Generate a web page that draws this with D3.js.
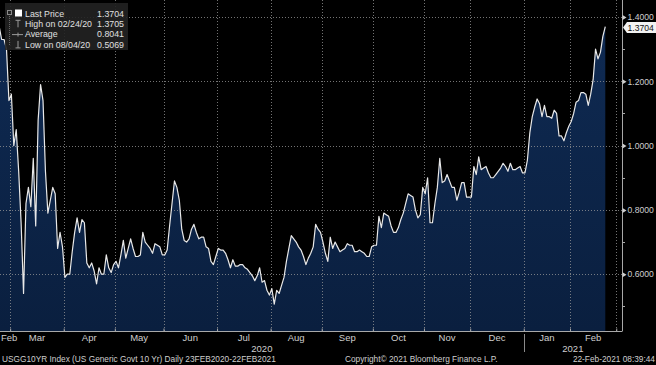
<!DOCTYPE html>
<html>
<head>
<meta charset="utf-8">
<script src="https://cdn.jsdelivr.net/npm/d3@7"></script>
<style>
  html, body { margin: 0; padding: 0; background: #000; }
  svg { display: block; font-family: "Liberation Sans", Arial, sans-serif; }
</style>
</head>
<body>
<div class="graphic"></div>
<script>
// USGG10YR daily closes, one array per month (trading days only)
var feb20 = [1.3705, 1.33, 1.33, 1.30, 1.14];
var mar20 = [1.16, 1.00, 1.05, 0.92, 0.76, 0.54, 0.82, 0.87, 0.81, 0.96, 0.75, 1.08, 1.19, 1.14, 0.92, 0.79, 0.83, 0.87, 0.85, 0.68, 0.73, 0.685];
var apr20 = [0.59, 0.60, 0.60, 0.67, 0.73, 0.775, 0.73, 0.77, 0.76, 0.635, 0.62, 0.635, 0.61, 0.57, 0.62, 0.60, 0.60, 0.66, 0.62, 0.605, 0.63];
var may20 = [0.64, 0.62, 0.66, 0.705, 0.65, 0.68, 0.71, 0.68, 0.655, 0.655, 0.66, 0.73, 0.70, 0.69, 0.68, 0.665, 0.695, 0.69, 0.685, 0.66];
var jun20 = [0.66, 0.675, 0.75, 0.82, 0.89, 0.87, 0.83, 0.74, 0.705, 0.70, 0.71, 0.74, 0.755, 0.73, 0.71, 0.715, 0.715, 0.685, 0.68, 0.64, 0.63, 0.655];
var jul20 = [0.68, 0.675, 0.675, 0.665, 0.645, 0.62, 0.645, 0.625, 0.625, 0.63, 0.63, 0.62, 0.615, 0.605, 0.595, 0.58, 0.595, 0.62, 0.575, 0.58, 0.55, 0.535];
var aug20 = [0.555, 0.5069, 0.55, 0.54, 0.565, 0.59, 0.64, 0.68, 0.72, 0.71, 0.70, 0.685, 0.675, 0.655, 0.63, 0.65, 0.665, 0.685, 0.755, 0.74, 0.73];
var sep20 = [0.70, 0.665, 0.64, 0.715, 0.68, 0.70, 0.685, 0.67, 0.675, 0.68, 0.695, 0.69, 0.69, 0.67, 0.67, 0.675, 0.67, 0.665, 0.655, 0.655, 0.685];
var oct20 = [0.69, 0.69, 0.78, 0.745, 0.79, 0.785, 0.78, 0.75, 0.73, 0.73, 0.745, 0.77, 0.79, 0.82, 0.85, 0.845, 0.84, 0.80, 0.775, 0.785, 0.87];
var nov20 = [0.85, 0.90, 0.76, 0.76, 0.82, 0.87, 0.96, 0.885, 0.89, 0.91, 0.89, 0.87, 0.87, 0.83, 0.855, 0.885, 0.885, 0.84, 0.84];
var dec20 = [0.84, 0.935, 0.91, 0.965, 0.925, 0.93, 0.935, 0.915, 0.90, 0.90, 0.91, 0.92, 0.93, 0.945, 0.935, 0.92, 0.945, 0.925, 0.925, 0.93, 0.935, 0.915];
var jan21 = [0.915, 0.955, 1.04, 1.09, 1.12, 1.145, 1.13, 1.09, 1.125, 1.09, 1.09, 1.085, 1.11, 1.10, 1.03, 1.03, 1.015, 1.04, 1.06];
var feb21 = [1.075, 1.10, 1.135, 1.14, 1.165, 1.165, 1.16, 1.125, 1.16, 1.205, 1.30, 1.27, 1.29, 1.34, 1.3704];

// axis months and their trading-day counts (last Feb counted to month end)
var monthLabels = ["Feb", "Mar", "Apr", "May", "Jun", "Jul", "Aug", "Sep", "Oct", "Nov", "Dec", "Jan", "Feb"];
var monthDays = [5, 22, 21, 20, 22, 22, 21, 21, 21, 19, 22, 19, 19];
var yearLabels = ["2020", "2021"];
var yTicks = [0.6, 0.8, 1.0, 1.2, 1.4];
var yMinor = [0.5, 0.7, 0.9, 1.1, 1.3];

var legendNames = ["Last Price", "High on 02/24/20", "Average", "Low on 08/04/20"];
var legendValues = ["1.3704", "1.3705", "0.8041", "0.5069"];
var lastPrice = 1.3704;

var footerLeft = "USGG10YR Index (US Generic Govt 10 Yr)  Daily 23FEB2020-22FEB2021";
var footerMid = "Copyright\u00a9 2021 Bloomberg Finance L.P.";
var footerRight = "22-Feb-2021 08:39:44";

var series = [].concat(feb20, mar20, apr20, may20, jun20, jul20, aug20, sep20, oct20, nov20, dec20, jan21, feb21);

var W = 656, H = 365;
var plotRight = 622, plotBottom = 331;
var textColor = "#cfcfcf";

var svg = d3.select(".graphic").append("svg")
  .attr("width", W).attr("height", H);

svg.append("rect").attr("width", W).attr("height", H).attr("fill", "#000");

var x = d3.scaleLinear().domain([0, 255]).range([-0.8, 619.9]);
var y = d3.scaleLinear().domain([0.4233, 1.4529]).range([plotBottom, 0]);

var defs = svg.append("defs");
var grad = defs.append("linearGradient").attr("id", "fillGrad")
  .attr("x1", 0).attr("y1", 0).attr("x2", 0).attr("y2", 1);
grad.append("stop").attr("offset", "0%").attr("stop-color", "#0f2a52");
grad.append("stop").attr("offset", "100%").attr("stop-color", "#0a1f3f");

defs.append("clipPath").attr("id", "plotClip")
  .append("rect").attr("x", 0).attr("y", 0).attr("width", plotRight).attr("height", plotBottom);

var plot = svg.append("g").attr("clip-path", "url(#plotClip)");

// area + line
var area = d3.area()
  .x(function(d, i) { return x(i); })
  .y0(plotBottom)
  .y1(function(d) { return y(d); });

var line = d3.line()
  .x(function(d, i) { return x(i); })
  .y(function(d) { return y(d); });

plot.append("path")
  .datum(series)
  .attr("d", area)
  .attr("fill", "url(#fillGrad)");

// month boundaries (between trading days)
var starts = [];
var acc = 0;
monthDays.forEach(function(n) { starts.push(acc); acc += n; });
var bounds = starts.slice(1).concat([acc]).map(function(s) { return s - 0.5; });

// grid
plot.append("g")
  .selectAll("line.hgrid")
  .data(yTicks)
  .enter().append("line")
  .attr("x1", 0).attr("x2", plotRight)
  .attr("y1", function(d) { return Math.round(y(d)) + 0.5; })
  .attr("y2", function(d) { return Math.round(y(d)) + 0.5; })
  .attr("stroke", "#9a9a9a").attr("stroke-opacity", 0.75)
  .attr("stroke-dasharray", "1,2");

plot.append("g")
  .selectAll("line.vgrid")
  .data(bounds)
  .enter().append("line")
  .attr("x1", function(d) { return Math.round(x(d)) + 0.5; })
  .attr("x2", function(d) { return Math.round(x(d)) + 0.5; })
  .attr("y1", 0).attr("y2", plotBottom)
  .attr("stroke", "#9a9a9a").attr("stroke-opacity", 0.75)
  .attr("stroke-dasharray", "1,2");

plot.append("path")
  .datum(series)
  .attr("d", line)
  .attr("fill", "none")
  .attr("stroke", "#e8e8e8")
  .attr("stroke-width", 1.2)
  .attr("stroke-linejoin", "round");

// bottom axis
var xAxis = d3.axisBottom(x)
  .tickValues(bounds)
  .tickSize(-3)
  .tickSizeOuter(0)
  .tickFormat("");

var gx = svg.append("g")
  .attr("transform", "translate(0," + (plotBottom + 0.5) + ")")
  .call(xAxis);
gx.select(".domain").attr("stroke", "#a8a8a8").attr("d", "M0,0H" + plotRight);
gx.selectAll(".tick line").attr("stroke", "#a8a8a8");

// month labels centred in each month span
var monthEdges = [0].concat(bounds.map(function(b) { return x(b); }));
svg.append("g").selectAll("text")
  .data(monthLabels)
  .enter().append("text")
  .attr("x", function(d, i) {
    if (i === 0) return 1;
    return (monthEdges[i] + Math.min(monthEdges[i + 1], plotRight)) / 2;
  })
  .attr("y", 341)
  .attr("text-anchor", function(d, i) { return i === 0 ? "start" : "middle"; })
  .attr("font-size", 9.5)
  .attr("fill", textColor)
  .text(function(d) { return d; });

// year labels and separator
var janEdge = x(bounds[10]);
var yearCenters = [janEdge / 2, (janEdge + plotRight) / 2];
svg.append("g").selectAll("text")
  .data(yearLabels)
  .enter().append("text")
  .attr("x", function(d, i) { return yearCenters[i]; })
  .attr("y", 351.5)
  .attr("text-anchor", "middle")
  .attr("font-size", 9.5)
  .attr("fill", textColor)
  .text(function(d) { return d; });

svg.append("line")
  .attr("x1", Math.round(janEdge) + 0.5).attr("x2", Math.round(janEdge) + 0.5)
  .attr("y1", 334).attr("y2", 352)
  .attr("stroke", "#8a8a8a");

// right axis
var yAxis = d3.axisRight(y)
  .tickValues(yTicks)
  .tickSize(0)
  .tickPadding(5)
  .tickSizeOuter(0)
  .tickFormat(d3.format(".4f"));

var gy = svg.append("g")
  .attr("transform", "translate(" + (plotRight + 0.5) + ",0)")
  .call(yAxis);
gy.select(".domain").attr("stroke", "#a8a8a8").attr("d", "M0,0V" + (plotBottom + 0.5));
gy.selectAll(".tick text")
  .attr("fill", textColor)
  .attr("font-size", 8.6)
  .attr("font-family", "Liberation Sans, Arial, sans-serif");
gy.selectAll(".tick").append("path")
  .attr("d", "M0,-2.5L4,0L0,2.5Z")
  .attr("fill", "#cfcfcf");

svg.append("g").selectAll("line")
  .data(yMinor)
  .enter().append("line")
  .attr("x1", plotRight).attr("x2", plotRight + 3)
  .attr("y1", function(d) { return Math.round(y(d)) + 0.5; })
  .attr("y2", function(d) { return Math.round(y(d)) + 0.5; })
  .attr("stroke", "#a8a8a8");

// last price tag
var ly = y(lastPrice) + 1;
svg.append("path")
  .attr("d", "M" + (plotRight + 1) + "," + ly + "L" + (plotRight + 5) + "," + (ly - 5.5) +
    "H" + W + "V" + (ly + 5.5) + "H" + (plotRight + 5) + "Z")
  .attr("fill", "#f2f2f2");
svg.append("text")
  .attr("x", plotRight + 5.5).attr("y", ly + 3.2)
  .attr("font-size", 8.6)
  .attr("fill", "#111")
  .text(lastPrice.toFixed(4));

// legend
var leg = svg.append("g");
leg.append("rect")
  .attr("x", 5).attr("y", 3).attr("width", 123).attr("height", 47)
  .attr("fill", "#222").attr("fill-opacity", 0.9);

var rowY = [13.5, 23.8, 34.1, 44.4];

leg.append("line")
  .attr("x1", 9.5).attr("x2", 9.5).attr("y1", 16).attr("y2", 46)
  .attr("stroke", "#666").attr("stroke-dasharray", "1,1");
leg.append("rect")
  .attr("x", 7.5).attr("y", 10.5).attr("width", 4).attr("height", 4)
  .attr("fill", "none").attr("stroke", "#888");
leg.append("rect")
  .attr("x", 15).attr("y", 9.5).attr("width", 7).attr("height", 7)
  .attr("fill", "#fff");
// high marker
leg.append("path")
  .attr("d", "M15.5," + (rowY[1] - 3.5) + "H20.5M18," + (rowY[1] - 3.5) + "V" + (rowY[1] + 3.5))
  .attr("stroke", "#999").attr("fill", "none");
// average marker
leg.append("path")
  .attr("d", "M12," + (rowY[2] + 0.5) + "H23M18," + (rowY[2] - 1.5) + "V" + (rowY[2] + 2.5))
  .attr("stroke", "#999").attr("fill", "none");
// low marker
leg.append("path")
  .attr("d", "M18," + (rowY[3] - 3.5) + "V" + (rowY[3] + 3.5) + "M15.5," + (rowY[3] + 3.5) + "H20.5")
  .attr("stroke", "#999").attr("fill", "none");

leg.selectAll("text.name")
  .data(legendNames)
  .enter().append("text")
  .attr("class", "name")
  .attr("x", 25)
  .attr("y", function(d, i) { return rowY[i] + 3.3; })
  .attr("font-size", 8.8)
  .attr("fill", "#e0e0e0")
  .text(function(d) { return d; });

leg.selectAll("text.val")
  .data(legendValues)
  .enter().append("text")
  .attr("class", "val")
  .attr("x", 124)
  .attr("y", function(d, i) { return rowY[i] + 3.3; })
  .attr("text-anchor", "end")
  .attr("font-size", 8.8)
  .attr("fill", "#e0e0e0")
  .text(function(d) { return d; });

// footer
svg.append("text")
  .attr("x", 2).attr("y", 362)
  .attr("font-size", 8.3)
  .attr("fill", textColor)
  .text(footerLeft);
svg.append("text")
  .attr("x", 345).attr("y", 362)
  .attr("font-size", 8.3)
  .attr("fill", textColor)
  .text(footerMid);
svg.append("text")
  .attr("x", 655).attr("y", 362)
  .attr("text-anchor", "end")
  .attr("font-size", 8.3)
  .attr("fill", textColor)
  .text(footerRight);
</script>
</body>
</html>
